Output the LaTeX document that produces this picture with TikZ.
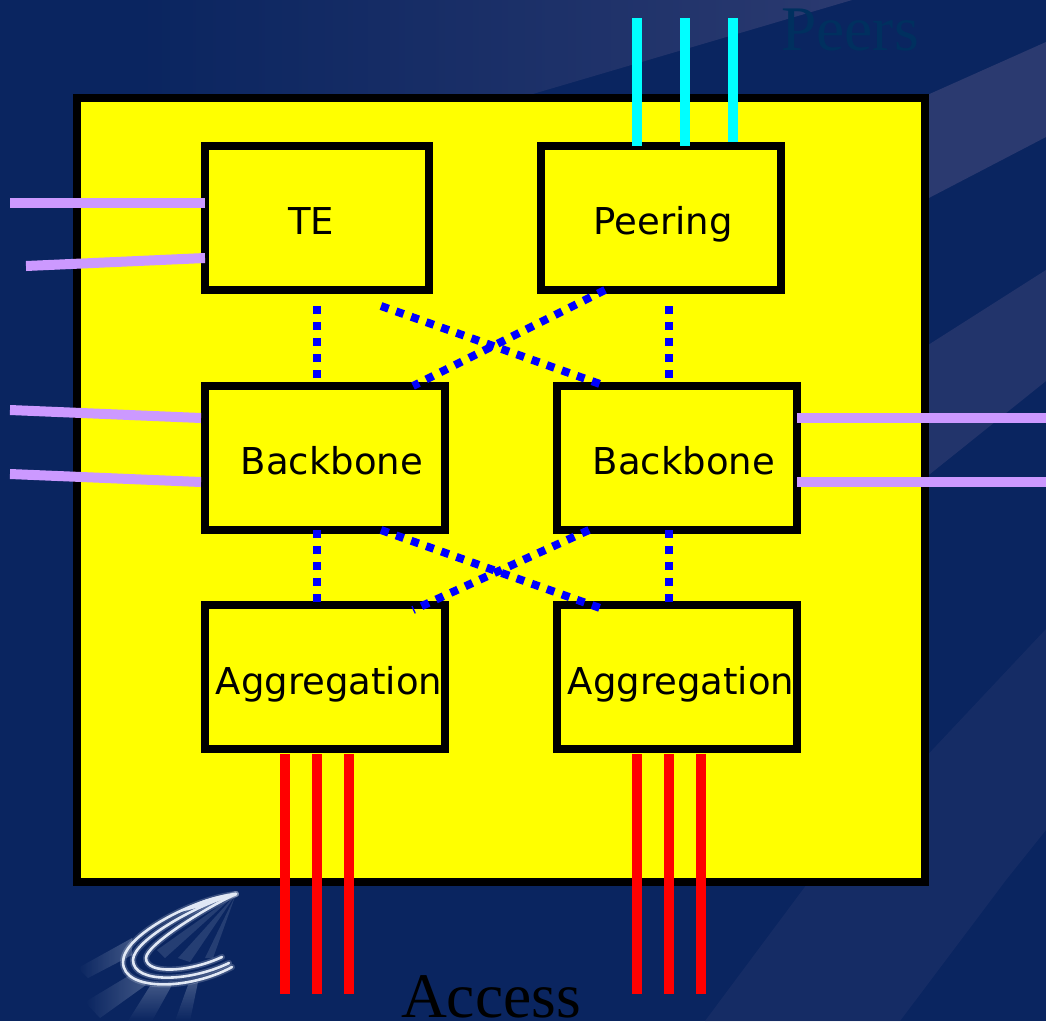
\documentclass[tikz,border=0pt]{standalone}
\usepackage{fontspec}
\setmainfont{Liberation Serif}
\newfontfamily\boxfont{DejaVu Sans}
\usetikzlibrary{fadings,calc}
\definecolor{navy}{RGB}{10,37,96}
\definecolor{swoosh}{RGB}{43,58,112}
\definecolor{lilac}{RGB}{204,153,255}
\definecolor{peerteal}{RGB}{0,48,95}
\definecolor{pureyellow}{RGB}{255,255,0}
\definecolor{purecyan}{RGB}{0,255,255}
\definecolor{purered}{RGB}{255,0,0}
\definecolor{pureblue}{RGB}{0,0,255}
\definecolor{logowhite}{RGB}{225,232,245}
\tikzset{
  x=1pt,y=-1pt,
  box/.style={draw=black,fill=pureyellow,line width=8pt,line join=miter,inner sep=0pt},
  lab/.style={font=\boxfont\fontsize{37}{40}\selectfont,text=black,inner sep=0pt,anchor=base},
  lilacline/.style={draw=lilac,line width=10pt},
  cyanline/.style={draw=purecyan,line width=10pt},
  redline/.style={draw=purered,line width=10pt},
  dotline/.style={draw=pureblue,line width=8pt,dash pattern=on 8pt off 8pt},
  big/.style={font=\fontsize{63.5}{64}\selectfont,inner sep=0pt,anchor=base,text depth=0pt},
  logoline/.style={draw=logowhite,line width=2.6pt,line cap=round},
  logoglow/.style={draw=logowhite,line width=6pt,opacity=.22,line cap=round},
  logoray/.style={fill=logowhite,opacity=.13}
}
\tikzfading[name=fadeleft,left color=transparent!100,right color=transparent!0]
\tikzfading[name=rayleft,left color=transparent!100,right color=transparent!75]
\tikzfading[name=raydown,top color=transparent!75,bottom color=transparent!100]
\begin{document}
\begin{tikzpicture}
\useasboundingbox (0,0) rectangle (1046,1021);
\fill[navy] (0,0) rectangle (1046,1021);
% background swooshes
\fill[swoosh,path fading=fadeleft] (127,0) -- (853,0) -- (513,100) -- (127,100) -- cycle;
\fill[swoosh] (1046,42) -- (925,96) -- (925,200) -- (1046,137) -- cycle;
\fill[swoosh,opacity=.75] (1046,270) -- (925,347) -- (925,478) -- (1046,381) -- cycle;
\fill[swoosh,opacity=.35] (1046,629) -- (810,880) -- (705,1021) -- (900,1021) -- (1006,880) -- (1046,830) -- cycle;
% main panel
\node[box,minimum width=848pt,minimum height=784pt] (panel) at (501,490) {};
% boxes
\node[box,minimum width=224pt,minimum height=144pt] (te) at (317,218) {};
\node[box,minimum width=240pt,minimum height=144pt] (peering) at (661,218) {};
\node[box,minimum width=240pt,minimum height=144pt] (bbl) at (325,458) {};
\node[box,minimum width=240pt,minimum height=144pt] (bbr) at (677,458) {};
\node[box,minimum width=240pt,minimum height=144pt] (agl) at (325,677) {};
\node[box,minimum width=240pt,minimum height=144pt] (agr) at (677,677) {};
% labels
\node[lab] (tetxt) at (311,234) {TE};
\node[lab] (petxt) at (663,234) {Peering};
\node[lab] (bltxt) at (332,474) {Backbone};
\node[lab] (brtxt) at (684,474) {Backbone};
\node[lab] (altxt) at (329,694) {Aggregation};
\node[lab] (artxt) at (681,694) {Aggregation};
\node[big,text=peerteal] (peers) at (850,50) {Peers};
\node[big,text=black] (access) at (491,1017) {Access};
% peer links
\coordinate (c1) at (637,18); \coordinate (c2) at (685,18); \coordinate (c3) at (733,18);
\draw[cyanline] (c1) -- ($(c1 |- peering.north)+(0,4)$);
\draw[cyanline] (c2) -- ($(c2 |- peering.north)+(0,4)$);
\draw[cyanline] (c3) -- (c3 |- peering.north);
% side links
\coordinate (l1) at (10,203); \coordinate (l1b) at (205,203);
\coordinate (l2) at (26,266); \coordinate (l2b) at (205,258);
\coordinate (l3) at (10,410); \coordinate (l3b) at (201,418);
\coordinate (l4) at (10,474); \coordinate (l4b) at (201,482);
\coordinate (r1) at (1046,418); \coordinate (r2) at (1046,482);
\coordinate (r1b) at (797,418); \coordinate (r2b) at (797,482);
\draw[lilacline] (l1) -- (l1b);
\draw[lilacline] (l2) -- (l2b);
\draw[lilacline] (l3) -- (l3b);
\draw[lilacline] (l4) -- (l4b);
\draw[lilacline] (r1b) -- (r1);
\draw[lilacline] (r2b) -- (r2);
% dotted links
\coordinate (d1a) at (317,306); \coordinate (d1b) at (317,378);
\coordinate (d2a) at (381,306); \coordinate (d2b) at (600,384);
\coordinate (d3a) at (605,290); \coordinate (d3b) at (413,386);
\coordinate (d4a) at (669,306); \coordinate (d4b) at (669,378);
\coordinate (d5a) at (317,530); \coordinate (d5b) at (317,602);
\coordinate (d6a) at (381,530); \coordinate (d6b) at (600,608);
\coordinate (d7a) at (589,530); \coordinate (d7b) at (413,610);
\coordinate (d8a) at (669,530); \coordinate (d8b) at (669,602);
\foreach \p/\q in {d1a/d1b,d2a/d2b,d3a/d3b,d4a/d4b,d5a/d5b,d6a/d6b,d7a/d7b,d8a/d8b}
  \draw[dotline] (\p) -- (\q);
% access lines
\foreach \n/\x in {a1/285,a2/317,a3/349,a4/637,a5/669,a6/701}{
  \coordinate (\n t) at (\x,754); \coordinate (\n b) at (\x,994);
  \draw[redline] (\n t) -- (\n b);
}
% logo
\fill[logowhite,path fading=rayleft] (78,968) -- (132,938) -- (132,955) -- (88,978) -- cycle;
\fill[logowhite,path fading=rayleft] (85,1002) -- (130,975) -- (146,985) -- (100,1018) -- cycle;
\fill[logowhite,path fading=raydown] (128,1021) -- (150,986) -- (172,985) -- (152,1021) -- cycle;
\fill[logowhite,path fading=raydown] (175,1021) -- (188,985) -- (198,982) -- (190,1021) -- cycle;
\fill[logoray] (236,894) -- (157,950) -- (165,958) -- cycle;
\fill[logoray] (236,894) -- (178,958) -- (190,962) -- cycle;
\fill[logoray] (236,894) -- (205,958) -- (213,958) -- cycle;
\foreach \st in {logoglow,logoline}{
\draw[\st] (236,894) .. controls (195,898) and (123,935) .. (123,962) .. controls (123,992) and (190,990) .. (232,967);
\draw[\st] (236,894) .. controls (200,903) and (133,940) .. (133,960) .. controls (133,984) and (190,982) .. (229,963);
\draw[\st] (236,894) .. controls (205,908) and (146,945) .. (146,958) .. controls (146,975) and (190,972) .. (222,957);
}
\fill[logowhite] (237,893) .. controls (215,895) and (195,902) .. (180,912) .. controls (198,908) and (218,902) .. cycle;
\end{tikzpicture}
\end{document}
